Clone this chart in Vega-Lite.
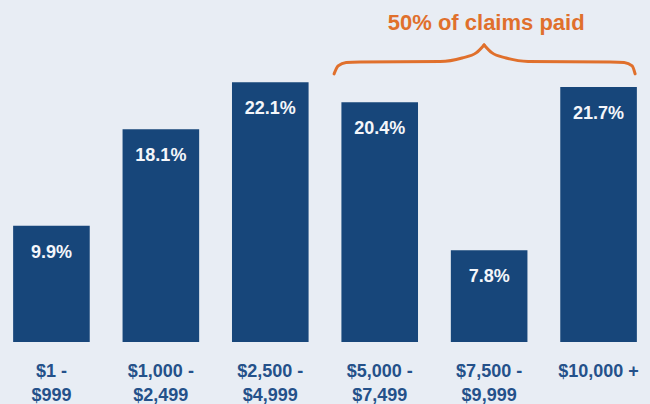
{
  "$schema": "https://vega.github.io/schema/vega-lite/v6.json",
  "width": 650,
  "height": 342,
  "padding": {"left": 0, "top": 0, "right": 0, "bottom": 62},
  "autosize": {"type": "none"},
  "background": "#e8edf4",
  "config": {"view": {"stroke": null}},
  "layer": [
    {
      "data": {"values": [
        {"range": "$1 -|$999", "value": 9.9, "label": "9.9%"},
        {"range": "$1,000 -|$2,499", "value": 18.1, "label": "18.1%"},
        {"range": "$2,500 -|$4,999", "value": 22.1, "label": "22.1%"},
        {"range": "$5,000 -|$7,499", "value": 20.4, "label": "20.4%"},
        {"range": "$7,500 -|$9,999", "value": 7.8, "label": "7.8%"},
        {"range": "$10,000 +", "value": 21.7, "label": "21.7%"}
      ]},
      "encoding": {
        "x": {
          "field": "range", "type": "nominal", "sort": null,
          "scale": {"paddingInner": 0.3, "paddingOuter": 0.12},
          "axis": {
            "title": null, "domain": false, "ticks": false, "labelAngle": 0,
            "labelExpr": "split(datum.label, '|')",
            "labelFont": "Liberation Sans", "labelFontWeight": "bold", "labelFontSize": 18, "labelColor": "#24518a",
            "labelPadding": 20, "labelLineHeight": 24, "labelBaseline": "top"
          }
        },
        "y": {"field": "value", "type": "quantitative", "scale": {"domain": [0, 29.1], "nice": false}, "axis": null}
      },
      "layer": [
        {"mark": {"type": "bar", "color": "#17467a"}},
        {"mark": {"type": "text", "color": "#f4f6fa", "font": "Liberation Sans", "fontWeight": "bold", "fontSize": 18, "baseline": "alphabetic", "dy": 32},
         "encoding": {"text": {"field": "label"}}}
      ]
    },
    {
      "data": {"values": [
        {"half": "L", "v": 2.583, "y": 22.81},
        {"half": "L", "v": 2.620, "y": 23.49},
        {"half": "L", "v": 2.693, "y": 23.79},
        {"half": "L", "v": 2.821, "y": 23.83},
        {"half": "L", "v": 3.552, "y": 23.87},
        {"half": "L", "v": 3.753, "y": 24.17},
        {"half": "L", "v": 3.881, "y": 24.60},
        {"half": "L", "v": 3.954, "y": 25.28},
        {"half": "R", "v": 3.954, "y": 25.28},
        {"half": "R", "v": 4.027, "y": 24.60},
        {"half": "R", "v": 4.155, "y": 24.17},
        {"half": "R", "v": 4.356, "y": 23.87},
        {"half": "R", "v": 5.106, "y": 23.83},
        {"half": "R", "v": 5.234, "y": 23.79},
        {"half": "R", "v": 5.307, "y": 23.49},
        {"half": "R", "v": 5.334, "y": 22.81}
      ]},
      "mark": {"type": "line", "color": "#e0702c", "strokeWidth": 3, "interpolate": "monotone", "strokeCap": "round"},
      "encoding": {
        "x": {"field": "v", "type": "quantitative", "scale": {"domain": [-0.47, 5.47], "nice": false, "zero": false}, "axis": null},
        "y": {"field": "y", "type": "quantitative"},
        "detail": {"field": "half"}
      }
    },
    {
      "data": {"values": [{"v": 3.973, "y": 26.55, "text": "50% of claims paid"}]},
      "mark": {"type": "text", "color": "#e0702c", "font": "Liberation Sans", "fontWeight": "bold", "fontSize": 22, "baseline": "alphabetic", "align": "center"},
      "encoding": {
        "x": {"field": "v", "type": "quantitative", "scale": {"domain": [-0.47, 5.47], "nice": false, "zero": false}, "axis": null},
        "y": {"field": "y", "type": "quantitative"},
        "text": {"field": "text"}
      }
    }
  ],
  "resolve": {"scale": {"x": "independent"}}
}
